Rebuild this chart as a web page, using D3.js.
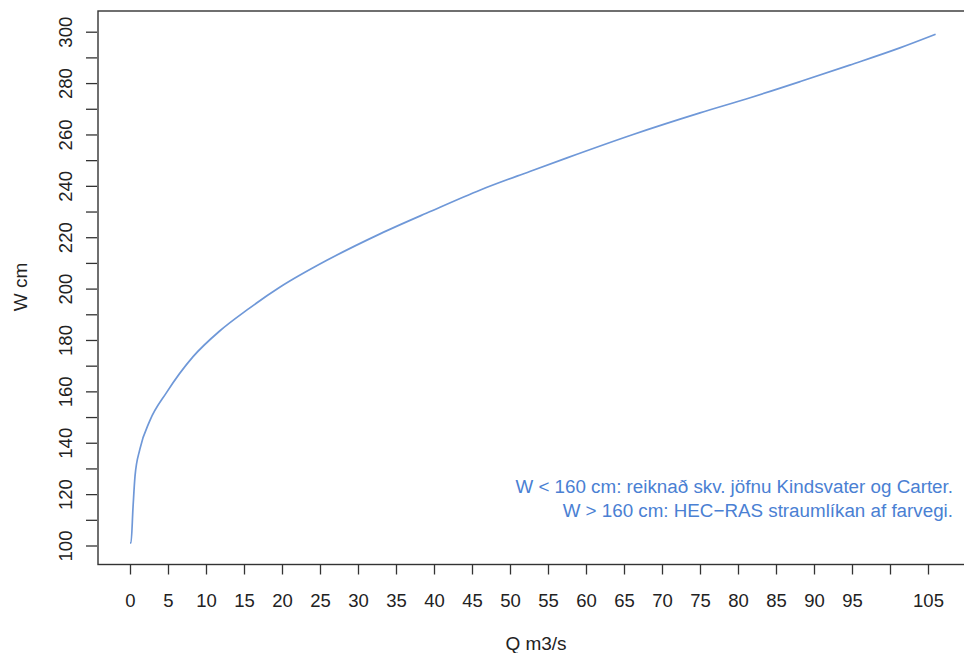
<!DOCTYPE html>
<html>
<head>
<meta charset="utf-8">
<script src="https://cdn.jsdelivr.net/npm/d3@7"></script>
<style>
  body { margin: 0; background: #fff; }
  text { font-family: "Liberation Sans", Arial, sans-serif; fill: #222; }
</style>
</head>
<body>
<svg class="mainSvg" width="964" height="653"></svg>
<script>
// rating curve
var flow = [0, 0.13, 0.4, 0.66, 1.3, 2.6, 4.8, 8.3, 11.8, 15.4, 19.7, 25.9, 32.9, 39.5, 46.1, 52.6, 57.5, 66.2, 75, 81.6, 88.2, 94.7, 101.3, 106];
var stage = [101, 101, 115, 127, 137.5, 148.5, 159.5, 173.5, 183.5, 191.7, 200.5, 211, 221.3, 230, 238.4, 245.6, 250.9, 260, 268.4, 274.3, 280.6, 287, 293.7, 299];
var xTicks = d3.range(0, 106, 5);
var yTicks = d3.range(100, 301, 10);
var legendLines = ["W < 160 cm: reiknað skv. jöfnu Kindsvater og Carter.", "W > 160 cm: HEC\u2212RAS straumlíkan af farvegi."];

var svg = d3.select(".mainSvg");
var x = d3.scaleLinear().domain([0, 105]).range([130, 928]);
var y = d3.scaleLinear().domain([100, 300]).range([545.5, 31.7]);

var box = {left: 98, top: 11, right: 968, bottom: 564.5};

// box (right side falls outside the picture)
svg.append("rect")
  .attr("x", box.left).attr("y", box.top)
  .attr("width", box.right - box.left).attr("height", box.bottom - box.top)
  .attr("fill", "none").attr("stroke", "#333").attr("stroke-width", 1.4);

var line = d3.line()
  .x(function(d, i) { return x(flow[i]); })
  .y(function(d) { return y(d); })
  .curve(d3.curveMonotoneX);

svg.append("path")
  .datum(stage)
  .attr("d", line)
  .attr("fill", "none")
  .attr("stroke", "#6f98d8")
  .attr("stroke-width", 1.7);

// x axis
var xAxis = svg.append("g")
  .attr("transform", "translate(0," + box.bottom + ")")
  .call(d3.axisBottom(x).tickValues(xTicks).tickSize(10)
    .tickFormat(function(d) { return d === 100 ? "" : d; }));
xAxis.select(".domain").remove();
xAxis.selectAll("line").attr("stroke", "#333").attr("stroke-width", 1.3);
xAxis.selectAll("text")
  .attr("y", 42.5).attr("dy", 0)
  .style("font-size", "18.5px").style("fill", "#222")
  .style("font-family", '"Liberation Sans", Arial, sans-serif');

// y axis
var yAxis = svg.append("g")
  .attr("transform", "translate(" + (box.left - 1) + ",0)")
  .call(d3.axisLeft(y).tickValues(yTicks).tickSize(11)
    .tickFormat(function(d) { return d % 20 === 0 ? d : ""; }));
yAxis.select(".domain").remove();
yAxis.selectAll("line").attr("stroke", "#333").attr("stroke-width", 1.3);
yAxis.selectAll("text")
  .attr("x", 0).attr("dy", 0)
  .attr("transform", "translate(-25,0) rotate(-90)")
  .attr("text-anchor", "middle")
  .style("font-size", "18.5px").style("fill", "#222")
  .style("font-family", '"Liberation Sans", Arial, sans-serif');

// titles
svg.append("text")
  .attr("x", 536).attr("y", 650)
  .attr("text-anchor", "middle")
  .style("font-size", "19px")
  .text("Q m3/s");

svg.append("text")
  .attr("transform", "translate(27,287) rotate(-90)")
  .attr("text-anchor", "middle")
  .style("font-size", "19px")
  .text("W cm");

// note
svg.selectAll(".note")
  .data(legendLines)
  .enter().append("text")
  .attr("class", "note")
  .attr("x", 953)
  .attr("y", function(d, i) { return 493 + i * 24; })
  .attr("text-anchor", "end")
  .style("font-size", "18.8px")
  .style("fill", "#4a80d3")
  .text(function(d) { return d; });
</script>
</body>
</html>
